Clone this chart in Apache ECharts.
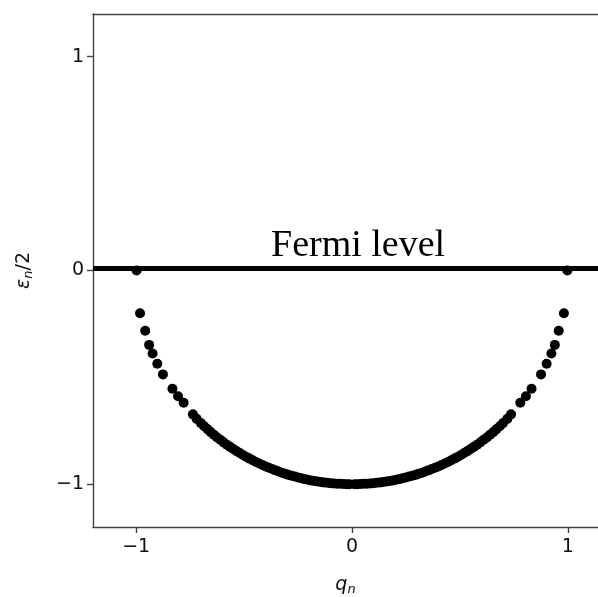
<!DOCTYPE html>
<html>
<head>
<meta charset="utf-8">
<script src="https://cdn.jsdelivr.net/npm/echarts@6/dist/echarts.min.js"></script>
<style>
  html, body { margin: 0; padding: 0; background: #fff; }
  #chart { width: 598px; height: 597px; }
</style>
</head>
<body>
<div id="chart"></div>
<script>
// Single-particle levels: momentum q_n and half energy eps_n/2
const qValues = [
  -0.998, -0.982, -0.958, -0.940, -0.924, -0.902, -0.876, -0.832, -0.806, -0.780, -0.737,
  -0.720, -0.700, -0.685, -0.670, -0.655, -0.640, -0.625, -0.610, -0.595, -0.580,
  -0.565, -0.550, -0.535, -0.520, -0.505, -0.490, -0.475, -0.460, -0.445, -0.430,
  -0.415, -0.400, -0.385, -0.370, -0.355, -0.340, -0.325, -0.310, -0.295, -0.280,
  -0.265, -0.250, -0.235, -0.220, -0.205, -0.190, -0.175, -0.160, -0.145, -0.130,
  -0.115, -0.100, -0.085, -0.070, -0.055, -0.040, -0.025, -0.012,
  0.012, 0.025, 0.040, 0.055, 0.070, 0.085, 0.100, 0.115, 0.130, 0.145,
  0.160, 0.175, 0.190, 0.205, 0.220, 0.235, 0.250, 0.265, 0.280, 0.295,
  0.310, 0.325, 0.340, 0.355, 0.370, 0.385, 0.400, 0.415, 0.430, 0.445,
  0.460, 0.475, 0.490, 0.505, 0.520, 0.535, 0.550, 0.565, 0.580, 0.595,
  0.610, 0.625, 0.640, 0.655, 0.670, 0.685, 0.700, 0.720,
  0.737, 0.780, 0.806, 0.832, 0.876, 0.902, 0.924, 0.940, 0.958, 0.982, 0.998
];
const halfEnergy = [
  0.000, -0.200, -0.282, -0.348, -0.388, -0.436, -0.486, -0.553, -0.588, -0.619, -0.673,
  -0.694, -0.714, -0.729, -0.742, -0.756, -0.768, -0.781, -0.792, -0.804, -0.815,
  -0.825, -0.835, -0.845, -0.854, -0.863, -0.872, -0.880, -0.888, -0.896, -0.903,
  -0.910, -0.917, -0.923, -0.929, -0.935, -0.940, -0.946, -0.951, -0.956, -0.960,
  -0.964, -0.968, -0.972, -0.976, -0.979, -0.982, -0.985, -0.987, -0.989, -0.992,
  -0.993, -0.995, -0.996, -0.998, -0.998, -0.999, -1.000, -1.000,
  -1.000, -1.000, -0.999, -0.998, -0.998, -0.996, -0.995, -0.993, -0.992, -0.989,
  -0.987, -0.985, -0.982, -0.979, -0.976, -0.972, -0.968, -0.964, -0.960, -0.956,
  -0.951, -0.946, -0.940, -0.935, -0.929, -0.923, -0.917, -0.910, -0.903, -0.896,
  -0.888, -0.880, -0.872, -0.863, -0.854, -0.845, -0.835, -0.825, -0.815, -0.804,
  -0.792, -0.781, -0.768, -0.756, -0.742, -0.729, -0.714, -0.694,
  -0.673, -0.619, -0.588, -0.553, -0.486, -0.436, -0.388, -0.348, -0.282, -0.200, 0.000
];
const xTicks = [-1, 0, 1];
const yTicks = [-1, 0, 1];
const fermiLevel = 0.015;
const fermiText = 'Fermi level';

const points = qValues.map((q, i) => [q, halfEnergy[i]]);
const spineColor = '#444';
const labelColor = '#111';
const fontFamily = '"DejaVu Sans", sans-serif';
const minusFmt = v => (v < 0 ? '\u2212' + Math.abs(v) : String(v));

const chart = echarts.init(document.getElementById('chart'), null, { renderer: 'canvas' });
chart.setOption({
  animation: false,
  backgroundColor: '#fff',
  grid: { left: 93, top: 14, right: 0, height: 513, containLabel: false, outerBoundsMode: 'none' },
  xAxis: [{
    type: 'value', min: -1.2, max: 1.14,
    splitLine: { show: false },
    axisLine: { show: true, onZero: false, lineStyle: { color: spineColor, width: 1.4 } },
    axisTick: { show: true, customValues: xTicks, length: 6, lineStyle: { color: spineColor, width: 1.4 } },
    axisLabel: { customValues: xTicks, color: labelColor, fontSize: 19, fontFamily: fontFamily, margin: 11,
      formatter: minusFmt },
    name: '{i|q}{s|n}',
    nameLocation: 'middle', nameGap: 47,
    nameTextStyle: {
      rich: {
        i: { fontSize: 19, fontStyle: 'italic', fontFamily: fontFamily, color: labelColor, lineHeight: 22 },
        s: { fontSize: 13, fontStyle: 'italic', fontFamily: fontFamily, color: labelColor, lineHeight: 12, verticalAlign: 'bottom' }
      }
    }
  }, {
    // top spine of the frame
    type: 'value', position: 'top', min: -1.2, max: 1.14,
    splitLine: { show: false },
    axisLine: { show: true, onZero: false, lineStyle: { color: spineColor, width: 1.4 } },
    axisTick: { show: false },
    axisLabel: { show: false }
  }],
  yAxis: {
    type: 'value', min: -1.2, max: 1.2,
    splitLine: { show: false },
    axisLine: { show: true, onZero: false, lineStyle: { color: spineColor, width: 1.4 } },
    axisTick: { show: true, customValues: yTicks, length: 6, lineStyle: { color: spineColor, width: 1.4 } },
    axisLabel: { customValues: yTicks, color: labelColor, fontSize: 19, fontFamily: fontFamily, margin: 9,
      formatter: minusFmt },
    name: '{i|\u03b5}{s|n}{r|/2}',
    nameLocation: 'middle', nameGap: 58, nameRotate: 90,
    nameTextStyle: {
      rich: {
        i: { fontSize: 19, fontStyle: 'italic', fontFamily: fontFamily, color: labelColor, lineHeight: 22 },
        s: { fontSize: 13, fontStyle: 'italic', fontFamily: fontFamily, color: labelColor, lineHeight: 12, verticalAlign: 'bottom' },
        r: { fontSize: 19, fontFamily: fontFamily, color: labelColor, lineHeight: 22 }
      }
    }
  },
  series: [{
    type: 'scatter',
    data: points,
    symbol: 'circle',
    symbolSize: 10,
    itemStyle: { color: '#000', opacity: 1 },
    markLine: {
      silent: true,
      symbol: ['none', 'none'],
      lineStyle: { color: '#000', width: 5, type: 'solid', opacity: 1 },
      label: { show: false },
      data: [{ yAxis: fermiLevel }]
    }
  }],
  graphic: [{
    type: 'text',
    left: 271, top: 227,
    silent: true,
    style: {
      text: fermiText,
      font: '38px "Liberation Serif", serif',
      fill: '#000'
    }
  }]
});
</script>
</body>
</html>
